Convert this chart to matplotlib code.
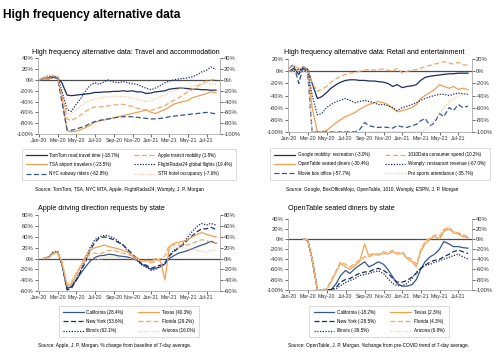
import numpy as np
import pandas as pd
import matplotlib
matplotlib.use('Agg')
import matplotlib.pyplot as plt
import matplotlib.dates as mdates
from matplotlib import font_manager
from matplotlib.ticker import FuncFormatter

plt.rcParams['font.family'] = ['Liberation Sans']
nan = np.nan

# observation dates: 1st and 15th of each month, Jan-20 .. Aug-21 (39 points)
dates = pd.date_range('2020-01-01', '2021-08-01', freq='SMS')

# ---- panel 1: travel and accommodation
tomtom = [0, 3, 2, 5, 3, -5, -28, -29, -28, -27, -26, -25, -23, -23, -22, -22, -21, -21, -20, -21,
          -20, -22, -22, -25, -24, -22, -21, -20, -17, -16, -15, -15, -16, -17, -17, -18, -18, -19, -18.7]
tsa = [0, 3, 5, 8, 5, -30, -94, -96, -95, -92, -88, -84, -78, -76, -74, -72, -70, -68, -66, -64,
       -62, -60, -58, -55, -60, -62, -58, -55, -50, -45, -42, -40, -38, -33, -30, -28, -25, -22, -23.5]
nyc_subway = [0, 2, 4, 6, 4, -40, -92, -93, -91, -88, -85, -80, -77, -75, -73, -72, -70, -69, -68, -68,
              -68, -69, -70, -71, -72, -72, -71, -70, -68, -67, -66, -65, -64, -63, -62, -61, -60, -61, -62.8]
apple_transit = [0, 3, 2, 6, 5, -25, -72, -75, -70, -65, -58, -53, -50, -50, -49, -48, -46, -46, -45, -47,
                 -49, -52, -54, -56, -56, -54, -50, -48, -42, -38, -33, -28, -22, -18, -12, -6, -2, 0, 1.8]
flights = [0, 5, 8, 5, 6, -20, -55, -58, -45, -35, -20, -10, -5, -8, -3, 0, -4, -5, -3, -5,
           -7, -8, -12, -15, -18, -15, -10, -5, -2, 0, 2, 3, 4, 6, 10, 15, 18, 24, 19.4]
hotel = [0, 5, 8, 10, 6, -30, -62, -63, -55, -48, -42, -38, -35, -34, -32, -31, -30, -30, -31, -32,
         -34, -36, -38, -40, -38, -35, -30, -28, -22, -20, -17, -15, -13, -12, -10, -8, -6, -7, -7.6]
labels1 = ['TomTom road travel time (-18.7%)', 'TSA airport travelers (-23.5%)', 'NYC subway riders (-62.8%)',
           'Apple transit mobility (1.8%)', 'FlightRadar24 global flights (19.4%)', 'STR hotel occupancy (-7.6%)']

# ---- panel 2: retail and entertainment
google_rec = [0, 5, -5, 8, 3, -20, -45, -42, -35, -28, -22, -18, -15, -14, -14, -15, -15, -16, -16, -17,
              -18, -20, -25, -22, -27, -25, -24, -22, -15, -10, -8, -7, -6, -5, -4, -4, -3, -3, -3]
opentable = [0, 2, 3, 5, 0, -60, -100, -100, -98, -92, -85, -80, -75, -72, -68, -63, -58, -55, -52, -50,
             -52, -55, -62, -67, -65, -63, -60, -55, -45, -40, -35, -30, -22, -25, -28, -25, -30, -28, -30.4]
box_office = [5, 12, -20, 8, -5, -100, -100, -100, -100, -100, -100, -100, -100, -100, -100, -97, -85, -90, -92, -93,
              -92, -93, -94, -90, -92, -93, -90, -88, -82, -78, -90, -85, -70, -75, -60, -65, -55, -60, -57.7]
spend_1010 = [5, 10, 5, 8, 3, -20, -33, -30, -25, -18, -12, -8, -5, -3, -2, 0, 2, 3, 2, 3,
              4, 2, 0, 5, -3, 0, 2, 3, 5, 8, 10, 12, 14, 16, 14, 12, 15, 11, 10.2]
womply = [0, 2, 3, 4, 0, -40, -72, -70, -60, -55, -50, -48, -45, -48, -52, -50, -48, -50, -52, -55,
          -55, -57, -60, -65, -60, -58, -55, -52, -48, -45, -42, -40, -38, -38, -40, -38, -36, -37, -38]
sports = [0, 0, 0, 0, 0, -100, -100, -100, -100, -100, -100, -100, -100, -100, -100, -100, -100, -100, -100, -100,
          -100, -100, -100, -100, -100, -100, -100, -100, -100, -98, -90, -80, -70, -60, -50, -45, -40, -38, -35.7]
labels2 = ['Google mobility: recreation (-3.0%)', 'OpenTable seated diners (-30.4%)', 'Movie box office (-57.7%)',
           '1010Data consumer spend (10.2%)', 'Womply: restaurant revenue (-67.0%)', 'Pro sports attendance (-35.7%)']

# ---- panel 3: Apple driving direction requests by state
drv_ca = [nan, 0, 2, 10, 12, -10, -55, -52, -40, -28, -15, -5, 2, 5, 6, 8, 7, 5, 4, 3,
          0, -3, -10, -15, -20, -18, -15, -10, 0, 5, 10, 12, 15, 18, 22, 25, 28, 32, 28.4]
drv_ny = [nan, 0, 3, 10, 12, -10, -58, -55, -40, -25, -5, 15, 30, 38, 40, 38, 35, 30, 25, 18,
          8, 0, -10, -12, -18, -15, -12, -8, 5, 12, 20, 25, 35, 42, 50, 55, 55, 58, 53.6]
drv_il = [nan, 0, 3, 12, 13, -10, -55, -52, -38, -22, 0, 20, 35, 40, 43, 42, 38, 32, 25, 15,
          5, -2, -12, -15, -22, -20, -15, -10, 5, 15, 20, 28, 40, 50, 60, 65, 62, 65, 62.1]
drv_tx = [nan, 0, 2, 10, 12, -8, -50, -48, -30, -15, 5, 15, 20, 22, 25, 22, 20, 18, 15, 12,
          5, 0, -5, -3, -5, 0, -5, -40, 20, 28, 30, 32, 35, 40, 45, 48, 45, 42, 40.3]
drv_fl = [nan, 0, 2, 8, 10, -5, -48, -45, -28, -15, 0, 8, 10, 8, 12, 15, 15, 12, 10, 8,
          5, 2, -3, -5, -8, -5, 0, 5, 25, 25, 25, 25, 25, 28, 32, 35, 33, 30, 29.2]
drv_az = [nan, 0, 0, 8, 10, -5, -45, -42, -25, -12, -2, 2, 0, -2, 2, 3, 3, 2, 2, 0,
          0, -2, -5, -5, -8, -5, 0, 5, 15, 20, 20, 20, 18, 18, 15, 14, 12, 15, 16.0]
labels3 = ['California (28.4%)', 'New York (53.6%)', 'Illinois (62.1%)',
           'Texas (40.3%)', 'Florida (29.2%)', 'Arizona (16.0%)']

# ---- panel 4: OpenTable seated diners by state
ot_ca = [nan, nan, nan, 0, -2, -40, -100, -100, -100, -100, -88, -72, -62, -68, -58, -52, -45, -55, -50, -45,
         -50, -60, -75, -88, -93, -93, -90, -80, -60, -45, -35, -30, -20, -5, -10, -15, -15, -17, -18.2]
ot_ny = [nan, nan, nan, 0, -2, -40, -100, -100, -100, -100, -95, -85, -80, -78, -72, -68, -65, -65, -60, -58,
         -62, -68, -78, -85, -85, -82, -75, -68, -58, -52, -45, -42, -40, -35, -30, -25, -22, -25, -28.5]
ot_il = [nan, nan, nan, 0, -2, -40, -100, -100, -100, -100, -98, -92, -86, -82, -78, -72, -70, -68, -65, -63,
         -68, -78, -88, -92, -92, -88, -78, -65, -58, -52, -50, -46, -43, -40, -36, -33, -30, -35, -39.5]
ot_tx = [nan, nan, nan, 0, -2, -40, -100, -100, -100, -85, -65, -48, -55, -60, -52, -45, -10, -35, -30, -32,
         -28, -30, -25, -30, -28, -38, -45, -55, -25, -10, 0, 5, 0, 15, 20, 12, 10, 5, 2.3]
ot_fl = [nan, nan, nan, 0, -2, -40, -100, -100, -98, -82, -62, -45, -50, -55, -48, -42, -35, -32, -28, -30,
         -25, -28, -22, -28, -25, -35, -40, -50, -22, -5, 2, 8, 5, 18, 22, 15, 12, 8, 4.3]
ot_az = [nan, nan, nan, 0, 0, -40, -100, -100, -100, -85, -65, -50, -55, -58, -50, -45, -38, -32, -30, -30,
         -26, -28, -25, -30, -28, -36, -42, -52, -20, -5, 3, 6, 8, 20, 25, 15, 12, 10, 6.8]
labels4 = ['California (-18.2%)', 'New York (-28.5%)', 'Illinois (-39.5%)',
           'Texas (2.3%)', 'Florida (4.3%)', 'Arizona (6.8%)']

NAVY = '#1d2c5e'
BLUE = '#34578f'
ORANGE = '#f0a04e'
ORANGE2 = '#eea866'
LIGHT = '#f7c896'
SOLID = '-'
DASH = (0, (4, 2))
DOT = (0, (1, 1.2))

# narrow face for the headline if it is installed
try:
    font_manager.findfont('Liberation Sans Narrow', fallback_to_default=False)
    HEAD_FONT, HEAD_SIZE = 'Liberation Sans Narrow', 10.5
except ValueError:
    HEAD_FONT, HEAD_SIZE = 'Liberation Sans', 8.6

W, H = 500, 364
fig = plt.figure(figsize=(W / 100, H / 100), dpi=100)


def px(x0, y_top, x1, y_bot):
    return [x0 / W, 1 - y_bot / H, (x1 - x0) / W, (y_bot - y_top) / H]


def panel(rect, series, labels, lo, hi, leg_center):
    ax = fig.add_axes(rect)
    lines = []
    for vals, color, ls in series:
        ln, = ax.plot(dates, vals, color=color, ls=ls, lw=0.9)
        lines.append(ln)
    ax.axhline(0, color='#4d4d4d', lw=0.9, zorder=1)
    ax.set_ylim(lo, hi)
    ax.set_yticks(range(lo, hi + 1, 20))
    ax.yaxis.set_major_formatter(FuncFormatter(lambda v, p: f'{v:.0f}%'))
    ax.set_xlim(pd.Timestamp('2019-12-28'), pd.Timestamp('2021-08-14'))
    ax.xaxis.set_major_locator(mdates.MonthLocator(bymonth=[1, 3, 5, 7, 9, 11]))
    ax.xaxis.set_major_formatter(mdates.DateFormatter('%b-%y'))
    ax.tick_params(labelsize=4.2, length=2, width=0.5, pad=1, colors='#333333')
    ax.tick_params(axis='x', labelsize=3.8)
    ax.tick_params(axis='y', right=True, labelright=True)
    ax.spines['top'].set_visible(False)
    for s in ['left', 'right', 'bottom']:
        ax.spines[s].set_color('#999999')
        ax.spines[s].set_linewidth(0.5)
    leg = fig.legend(lines, labels, ncol=2, loc='center',
                     bbox_to_anchor=(leg_center[0] / W, 1 - leg_center[1] / H),
                     fontsize=3.3, handlelength=4.5, handletextpad=0.6, columnspacing=3.2,
                     labelspacing=0.9, frameon=True, fancybox=False, borderpad=0.9)
    leg.get_frame().set_edgecolor('#cccccc')
    leg.get_frame().set_linewidth(0.6)
    return ax


fig.text(3 / W, 1 - 15 / H, 'High frequency alternative data', fontsize=HEAD_SIZE, fontweight='bold',
         family=[HEAD_FONT, 'Liberation Sans'], va='center', ha='left')

panel(px(38, 58.4, 220, 134),
      [(tomtom, NAVY, SOLID), (tsa, ORANGE, SOLID), (nyc_subway, BLUE, DASH),
       (apple_transit, ORANGE2, DASH), (flights, NAVY, DOT), (hotel, LIGHT, DOT)],
      labels1, -100, 40, (129, 164.5))
fig.text(126 / W, 1 - 52 / H, 'High frequency alternative data: Travel and accommodation',
         fontsize=5.1, ha='center', va='center')
fig.text(35 / W, 1 - 189 / H, 'Source: TomTom, TSA, NYC MTA, Apple, FlightRadar24, Womply, J. P. Morgan',
         fontsize=3.4, ha='left', va='center')

panel(px(288, 59.3, 472, 131.7),
      [(google_rec, NAVY, SOLID), (opentable, ORANGE, SOLID), (box_office, BLUE, DASH),
       (spend_1010, ORANGE2, DASH), (womply, NAVY, DOT), (sports, LIGHT, DOT)],
      labels2, -100, 20, (380, 164))
fig.text(374 / W, 1 - 52 / H, 'High frequency alternative data: Retail and entertainment',
         fontsize=5.1, ha='center', va='center')
fig.text(286 / W, 1 - 189 / H, 'Source: Google, BoxOfficeMojo, OpenTable, 1010, Womply, ESPN, J. P. Morgan',
         fontsize=3.4, ha='left', va='center')

panel(px(38, 215.3, 220, 291),
      [(drv_ca, BLUE, SOLID), (drv_ny, NAVY, DASH), (drv_il, NAVY, DOT),
       (drv_tx, ORANGE, SOLID), (drv_fl, ORANGE2, DASH), (drv_az, LIGHT, DOT)],
      labels3, -60, 80, (129, 321.5))
fig.text(38 / W, 1 - 209 / H, 'Apple driving direction requests by state', fontsize=5.1, ha='left', va='center')
fig.text(38 / W, 1 - 345 / H, 'Source: Apple, J. P. Morgan. % change from baseline of 7-day average.',
         fontsize=3.4, ha='left', va='center')

panel(px(288, 218.7, 472, 289.7),
      [(ot_ca, BLUE, SOLID), (ot_ny, NAVY, DASH), (ot_il, NAVY, DOT),
       (ot_tx, ORANGE, SOLID), (ot_fl, ORANGE2, DASH), (ot_az, LIGHT, DOT)],
      labels4, -100, 40, (379, 321.5))
fig.text(288 / W, 1 - 209 / H, 'OpenTable seated diners by state', fontsize=5.1, ha='left', va='center')
fig.text(288 / W, 1 - 345 / H, 'Source: OpenTable, J. P. Morgan. %change from pre-COVID trend of 7-day average.',
         fontsize=3.4, ha='left', va='center')

fig.savefig('out.png', dpi=100)
